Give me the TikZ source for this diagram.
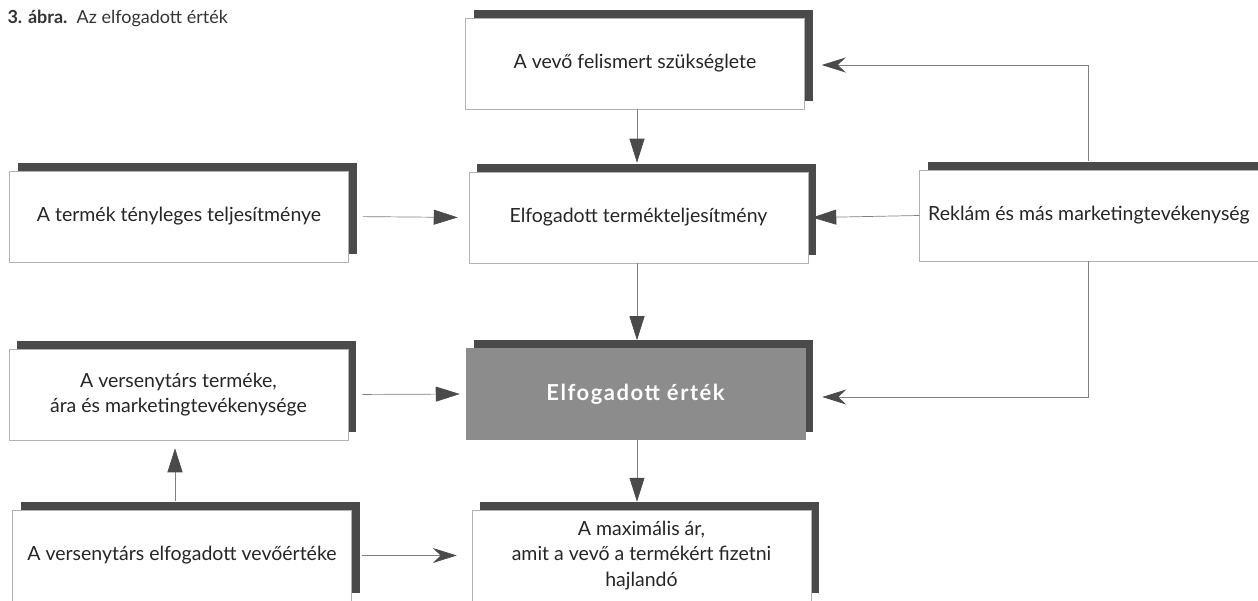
\documentclass[tikz,border=0pt]{standalone}
\usepackage{fontspec}
\setmainfont{Lato}
\usetikzlibrary{arrows.meta,shadows}
\definecolor{shade}{HTML}{4A4A4A}
\definecolor{coregray}{HTML}{8C8C8C}
\definecolor{wire}{HTML}{808080}
\tikzset{
    box/.style={rectangle, minimum width=339pt, minimum height=91pt, fill=white, draw=black!30, line width=.5pt, align=center, text=black!85, font=\fontsize{19.5}{25.5}\selectfont, drop shadow={shadow xshift=8pt, shadow yshift=8pt, fill=shade, opacity=1}},
    valuebox/.style={box, fill=coregray, draw=coregray, text=white, font=\fontsize{22}{25}\selectfont\bfseries\addfontfeatures{LetterSpace=7}},
    arr/.style={draw=wire, line width=.7pt, -{Triangle[length=24pt, width=15pt, color=shade]}},
    dart/.style={draw=wire, line width=.7pt, -{Stealth[length=24pt, width=15pt, inset=8pt, color=shade]}}
}
\begin{document}
\begin{tikzpicture}[x=1pt, y=-1pt]
    \useasboundingbox (0,0) rectangle (1258,601);
    \node[anchor=west, text=black!80, font=\fontsize{18}{20}\selectfont] (cap) at (4,18) {\textbf{3. ábra.}~~Az elfogadott érték};
    \node[box] (need) at (635,63.5) {A vevő felismert szükséglete};
    \node[box] (perf) at (638.5,217.5) {Elfogadott termékteljesítmény};
    \node[box] (actual) at (179,216.5) {A termék tényleges teljesítménye};
    \node[box] (ad) at (1089,215.5) {Reklám és más marketingtevékenység};
    \node[box] (comp) at (178.5,394.5) {A versenytárs terméke,\\ ára és marketingtevékenysége};
    \node[valuebox] (value) at (635.5,394) {Elfogadott érték};
    \node[box] (rival) at (182,555.5) {A versenytárs elfogadott vevőértéke};
    \node[box] (price) at (641.5,555.5) {A maximális ár,\\ amit a vevő a termékért fizetni\\ hajlandó};
    \draw[arr] ([xshift=2pt]need.south) -- ([xshift=-1.5pt,yshift=9pt]perf.north);
    \draw[arr] ([xshift=-1.5pt]perf.south) -- ([xshift=1.5pt,yshift=8pt]value.north);
    \draw[arr] ([xshift=1.5pt]value.south) -- ([xshift=-4.5pt,yshift=8pt]price.north);
    \draw[arr, shorten <=14pt, shorten >=11pt] (actual.east) -- (perf.west);
    \draw[arr, shorten <=14pt, shorten >=6pt] (comp.east) -- (value.west);
    \draw[arr, shorten >=-4pt] (ad.west) -- ([xshift=8pt]perf.east);
    \draw[arr] ([xshift=-7pt,yshift=9pt]rival.north) -- ([xshift=-3.5pt,yshift=-8pt]comp.south);
    \draw[dart, shorten <=10pt, shorten >=15pt] (rival.east) -- (price.west);
    \draw[dart] ([xshift=-1pt,yshift=9pt]ad.north) |- ([xshift=17pt,yshift=-1.5pt]need.east);
    \draw[dart] ([xshift=-1pt]ad.south) |- ([xshift=17pt,yshift=-3pt]value.east);
\end{tikzpicture}
\end{document}
